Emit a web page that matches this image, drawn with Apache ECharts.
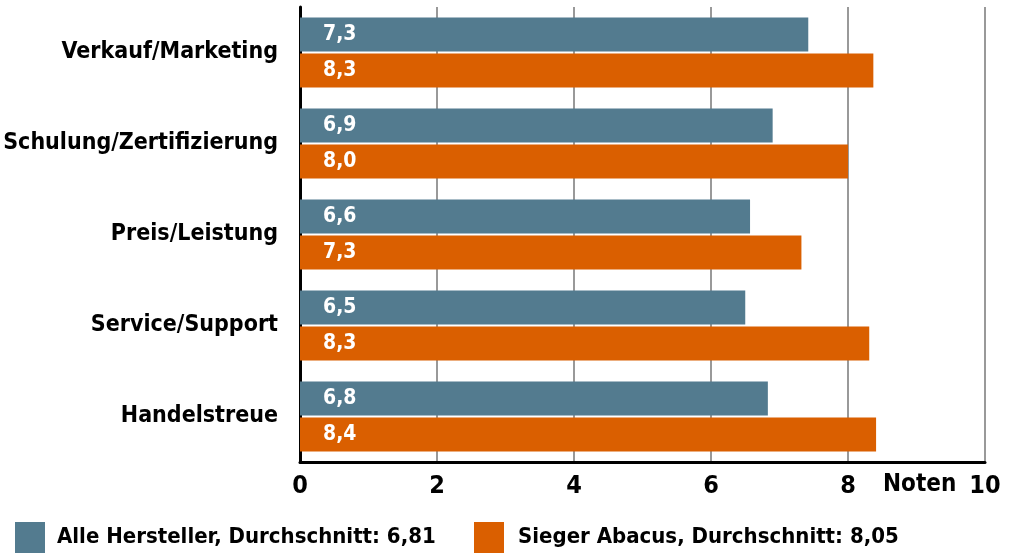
<!DOCTYPE html>
<html>
<head>
<meta charset="utf-8">
<script src="https://cdn.jsdelivr.net/npm/echarts@6/dist/echarts.min.js"></script>
<style>
  html, body { margin: 0; padding: 0; background: #fff; }
  #chart { width: 1010px; height: 556px; }
</style>
</head>
<body>
<div id="chart"></div>
<script>
// Kategorien (von oben nach unten)
var categories = ["Verkauf/Marketing", "Schulung/Zertifizierung", "Preis/Leistung", "Service/Support", "Handelstreue"];

// Balkenlaengen
var alleValues = [7.42, 6.9, 6.57, 6.5, 6.83];
var siegerValues = [8.37, 8.0, 7.32, 8.31, 8.41];

// aufgedruckte Werte
var alleLabels = ["7,3", "6,9", "6,6", "6,5", "6,8"];
var siegerLabels = ["8,3", "8,0", "7,3", "8,3", "8,4"];

var seriesNames = ["Alle Hersteller, Durchschnitt: 6,81", "Sieger Abacus, Durchschnitt: 8,05"];
var colors = ["#537b8f", "#da5f00"];

var FONT = "'DejaVu Sans Condensed', 'Liberation Sans Narrow', sans-serif";

var chart = echarts.init(document.getElementById("chart"));

function barSeries(idx, values, labels) {
  return {
    name: seriesNames[idx],
    type: "bar",
    data: values,
    barWidth: 34,
    barGap: "6%",
    itemStyle: { color: colors[idx] },
    label: {
      show: true,
      position: "insideLeft",
      distance: 23,
      color: "#fff",
      fontFamily: FONT,
      fontWeight: "bold",
      fontSize: 21,
      formatter: function (p) {
        return labels[p.dataIndex];
      }
    }
  };
}

function legendItem(idx, left, textGap) {
  return {
    data: [seriesNames[idx]],
    left: left,
    top: 522,
    padding: 0,
    itemWidth: 30,
    itemHeight: 31,
    icon: "rect",
    selectedMode: false,
    textStyle: { color: "#000", fontFamily: FONT, fontWeight: "bold", fontSize: 22, padding: [0, 0, 0, textGap] }
  };
}

var option = {
  animation: false,
  backgroundColor: "#fff",
  grid: { left: 300, right: 25, top: 7, bottom: 94, outerBoundsMode: "none", containLabel: false },
  xAxis: {
    type: "value",
    min: 0,
    max: 10,
    interval: 2,
    axisLine: { show: true, lineStyle: { color: "#000", width: 3 } },
    axisTick: { show: false },
    splitLine: { show: true, lineStyle: { color: "#999", width: 2 } },
    axisLabel: {
      margin: 12,
      color: "#000",
      fontFamily: FONT,
      fontWeight: "bold",
      fontSize: 25,
      showMinLabel: true,
      showMaxLabel: true
    }
  },
  yAxis: {
    type: "category",
    data: categories,
    inverse: true,
    axisLine: { show: true, lineStyle: { color: "#000", width: 3 } },
    axisTick: { show: false },
    splitLine: { show: false },
    axisLabel: {
      margin: 22,
      color: "#000",
      fontFamily: FONT,
      fontWeight: "bold",
      fontSize: 23
    }
  },
  legend: [legendItem(0, 15, 7), legendItem(1, 474, 9)],
  graphic: [
    {
      type: "text",
      left: 883,
      top: 473,
      style: { text: "Noten", fill: "#000", font: "bold 24px " + FONT }
    }
  ],
  series: [
    barSeries(0, alleValues, alleLabels),
    barSeries(1, siegerValues, siegerLabels)
  ]
};

chart.setOption(option);
</script>
</body>
</html>
